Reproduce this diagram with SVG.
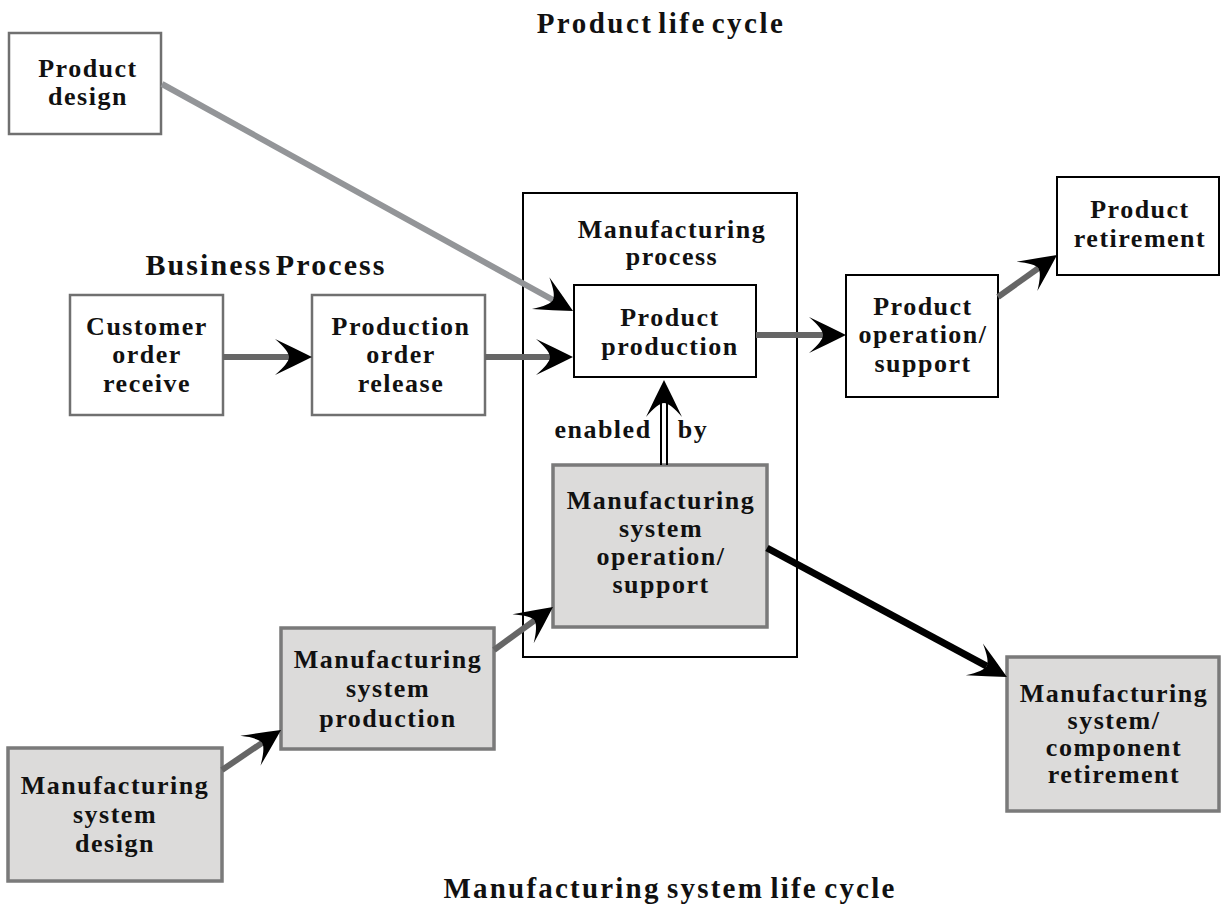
<svg xmlns="http://www.w3.org/2000/svg" width="1221" height="909" viewBox="0 0 1221 909">
<style>
text{font-family:"Liberation Serif","Times New Roman",serif;font-weight:bold;fill:#111;text-anchor:middle}
.t{font-size:26px;letter-spacing:1.5px}
.gbox{fill:#fff;stroke:#707070;stroke-width:2.5}
.bbox{fill:#fff;stroke:#000;stroke-width:2}
.sbox{fill:#dcdbda;stroke:#7a7a7a;stroke-width:3.5}
.c{fill:none;stroke:#666;stroke-width:6}
</style>
<defs>
<marker id="ah" markerUnits="userSpaceOnUse" markerWidth="42" markerHeight="42" viewBox="0 0 42 40" refX="17" refY="20" orient="auto" overflow="visible">
<path d="M40,20 Q22,11 3,2 Q17,14 17,20 Q17,26 3,38 Q22,29 40,20 Z" fill="#000"/>
</marker>
</defs>
<rect width="1221" height="909" fill="#fff"/>
<text x="661" y="33" style="font-size:29px;letter-spacing:2.5px;word-spacing:-5px">Product life cycle</text>
<text x="266" y="275" style="font-size:30px;letter-spacing:2.1px;word-spacing:-6px">Business Process</text>
<text x="670" y="898" style="font-size:29px;letter-spacing:2.2px;word-spacing:-3px">Manufacturing system life cycle</text>

<g id="container">
<rect x="523" y="193" width="274" height="464" class="bbox"/>
<text class="t" x="672" y="238">Manufacturing</text>
<text class="t" x="672" y="265">process</text>
</g>

<g id="product-design">
<rect x="9" y="33" width="152" height="101" class="gbox"/>
<text class="t" x="88" y="77">Product</text>
<text class="t" x="88" y="105">design</text>
</g>
<g id="customer-order">
<rect x="70" y="295" width="153" height="120" class="gbox"/>
<text class="t" x="147" y="335">Customer</text>
<text class="t" x="147" y="363">order</text>
<text class="t" x="147" y="392">receive</text>
</g>
<g id="production-order">
<rect x="312" y="295" width="173" height="120" class="gbox"/>
<text class="t" x="401" y="335">Production</text>
<text class="t" x="401" y="363">order</text>
<text class="t" x="401" y="392">release</text>
</g>
<g id="product-production">
<rect x="574" y="285" width="182" height="92" class="bbox"/>
<text class="t" x="670" y="326">Product</text>
<text class="t" x="670" y="355">production</text>
</g>
<g id="product-operation">
<rect x="846" y="275" width="152" height="122" class="bbox"/>
<text class="t" x="923" y="315">Product</text>
<text class="t" x="923" y="343">operation/</text>
<text class="t" x="923" y="372">support</text>
</g>
<g id="product-retirement">
<rect x="1057" y="177" width="162" height="98" class="bbox"/>
<text class="t" x="1140" y="218">Product</text>
<text class="t" x="1140" y="247">retirement</text>
</g>
<g id="ms-operation">
<rect x="553" y="465" width="214" height="162" class="sbox"/>
<text class="t" x="661" y="509">Manufacturing</text>
<text class="t" x="661" y="537">system</text>
<text class="t" x="661" y="565">operation/</text>
<text class="t" x="661" y="593">support</text>
</g>
<g id="ms-design">
<rect x="8" y="748" width="214" height="133" class="sbox"/>
<text class="t" x="115" y="794">Manufacturing</text>
<text class="t" x="115" y="823">system</text>
<text class="t" x="115" y="852">design</text>
</g>
<g id="ms-production">
<rect x="281" y="628" width="213" height="121" class="sbox"/>
<text class="t" x="388" y="668">Manufacturing</text>
<text class="t" x="388" y="697">system</text>
<text class="t" x="388" y="727">production</text>
</g>
<g id="ms-retirement">
<rect x="1007" y="657" width="212" height="154" class="sbox"/>
<text class="t" x="1114" y="702">Manufacturing</text>
<text class="t" x="1114" y="729">system/</text>
<text class="t" x="1114" y="756">component</text>
<text class="t" x="1114" y="783">retirement</text>
</g>

<g id="connectors">
<path d="M162,84 L552.9,299.9" class="c" style="stroke:#939598" marker-end="url(#ah)"/>
<path d="M223,357 L289,357" class="c" marker-end="url(#ah)"/>
<path d="M485,357 L550,357" class="c" marker-end="url(#ah)"/>
<path d="M756,335 L823,335" class="c" marker-end="url(#ah)"/>
<path d="M998,297 L1038.3,268.3" class="c" marker-end="url(#ah)"/>
<path d="M222,770 L262,742.9" class="c" marker-end="url(#ah)"/>
<path d="M494,650 L534.4,620.5" class="c" marker-end="url(#ah)"/>
<path d="M767,548 L986.7,666.1" class="c" style="stroke:#000;stroke-width:7" marker-end="url(#ah)"/>
<path d="M661,465 L661,400 M667,465 L667,400" fill="none" stroke="#000" stroke-width="2"/>
<path d="M664,465 L664,403" fill="none" stroke="none" marker-end="url(#ah)"/>
<text class="t" x="603" y="438">enabled</text>
<text class="t" x="693" y="438">by</text>
</g>
</svg>
